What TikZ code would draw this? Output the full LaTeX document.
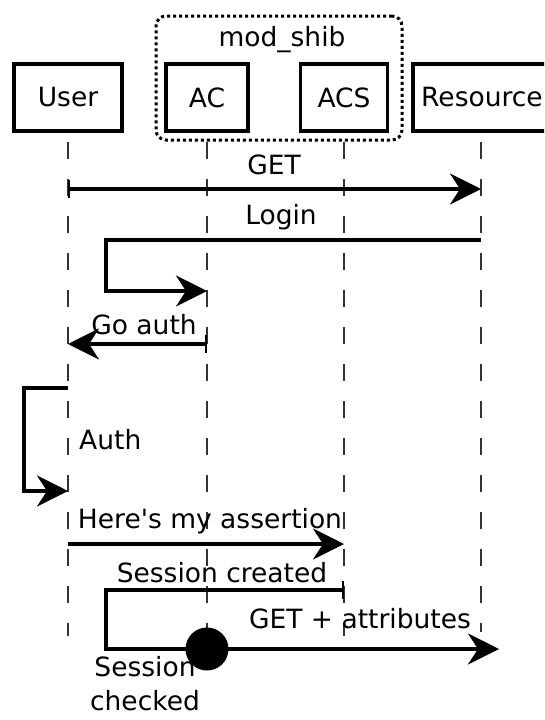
\documentclass[tikz,border=0pt]{standalone}
\usepackage{fontspec}
\setmainfont{DejaVu Sans}
\usetikzlibrary{arrows.meta}

\begin{document}
\begin{tikzpicture}[x=1pt, y=-1pt,
    font=\fontsize{26.5}{34}\selectfont,
    actor/.style={rectangle, draw, line width=3.5pt, minimum height=67pt, inner sep=0pt},
    lifeline/.style={line width=2pt, black!80, dash pattern=on 17pt off 20pt},
    msg/.style={line width=3.5pt, -{Stealth[length=31pt, width=31pt, inset=10pt]}},
    tmsg/.style={msg, {Bar[width=18pt, line width=2pt]}-{Stealth[length=31pt, width=31pt, inset=10pt]}},
    lbl/.style={inner sep=0pt}
]
    \path[use as bounding box, clip] (0,0) rectangle (544,720);

    % Teilnehmer
    \node[actor, minimum width=108pt] (user) at (68, 97.5) {User};
    \node[actor, minimum width=82pt] (ac) at (207, 97.5) {AC};
    \node[actor, minimum width=87pt] (acs) at (344, 97.5) {ACS};
    \node[actor, minimum width=138pt] (res) at (482, 97.5) {Resource};

    % mod_shib Gruppe
    \node[draw, line width=3pt, dash pattern=on 3pt off 3pt, rounded corners=10pt,
          minimum width=246pt, minimum height=124pt] (modshib) at (279, 78) {};
    \node[lbl] (modlbl) at (282, 40) {mod\_shib};

    % Lebenslinien
    \coordinate (userEnd) at (68, 636);
    \coordinate (acEnd) at (207, 636);
    \coordinate (acsEnd) at (344, 636);
    \coordinate (resEnd) at (481, 632);
    \draw[lifeline] (68, 142) -- (userEnd);
    \draw[lifeline] (207, 142) -- (acEnd);
    \draw[lifeline] (344, 142) -- (acsEnd);
    \draw[lifeline] (481, 142) -- (resEnd);

    % Nachrichtenpunkte
    \coordinate (getFrom) at (68, 189);
    \coordinate (getTo) at (481, 189);
    \coordinate (loginFrom) at (481, 240);
    \coordinate (loginTo) at (207, 291);
    \coordinate (goFrom) at (207, 344);
    \coordinate (goTo) at (68, 344);
    \coordinate (authFrom) at (68, 388);
    \coordinate (authTo) at (68, 491);
    \coordinate (assFrom) at (68, 544);
    \coordinate (assTo) at (344, 544);
    \coordinate (created) at (344, 590);
    \coordinate (attrEnd) at (499, 649);

    % Nachrichten
    \draw[tmsg] (getFrom) -- (getTo);
    \node[lbl] (getlbl) at (274, 165) {GET};

    \draw[msg] (loginFrom) -- ++(-375, 0) |- (loginTo);
    \node[lbl] (loginlbl) at (281, 217) {Login};

    \draw[tmsg] (goFrom) -- (goTo);
    \node[lbl] (golbl) at (144, 325) {Go auth};

    \draw[msg] (authFrom) -- ++(-44, 0) |- (authTo);
    \node[lbl, anchor=west] (authlbl) at (79, 440) {Auth};

    \draw[msg] (assFrom) -- (assTo);
    \node[lbl] (asslbl) at (210, 521) {Here\textquotesingle s my assertion};

    \draw[tmsg] (created) -- ++(-238, 0) |- (attrEnd);
    \node[lbl] (createdlbl) at (222, 573) {Session created};
    \node[circle, fill, minimum size=43pt, inner sep=0pt] (check) at (207, 649) {};
    \node[lbl] (attrlbl) at (360, 619) {GET + attributes};
    \node[lbl, align=center, anchor=south] (checklbl) at (145, 711) {Session\\checked};
\end{tikzpicture}
\end{document}
